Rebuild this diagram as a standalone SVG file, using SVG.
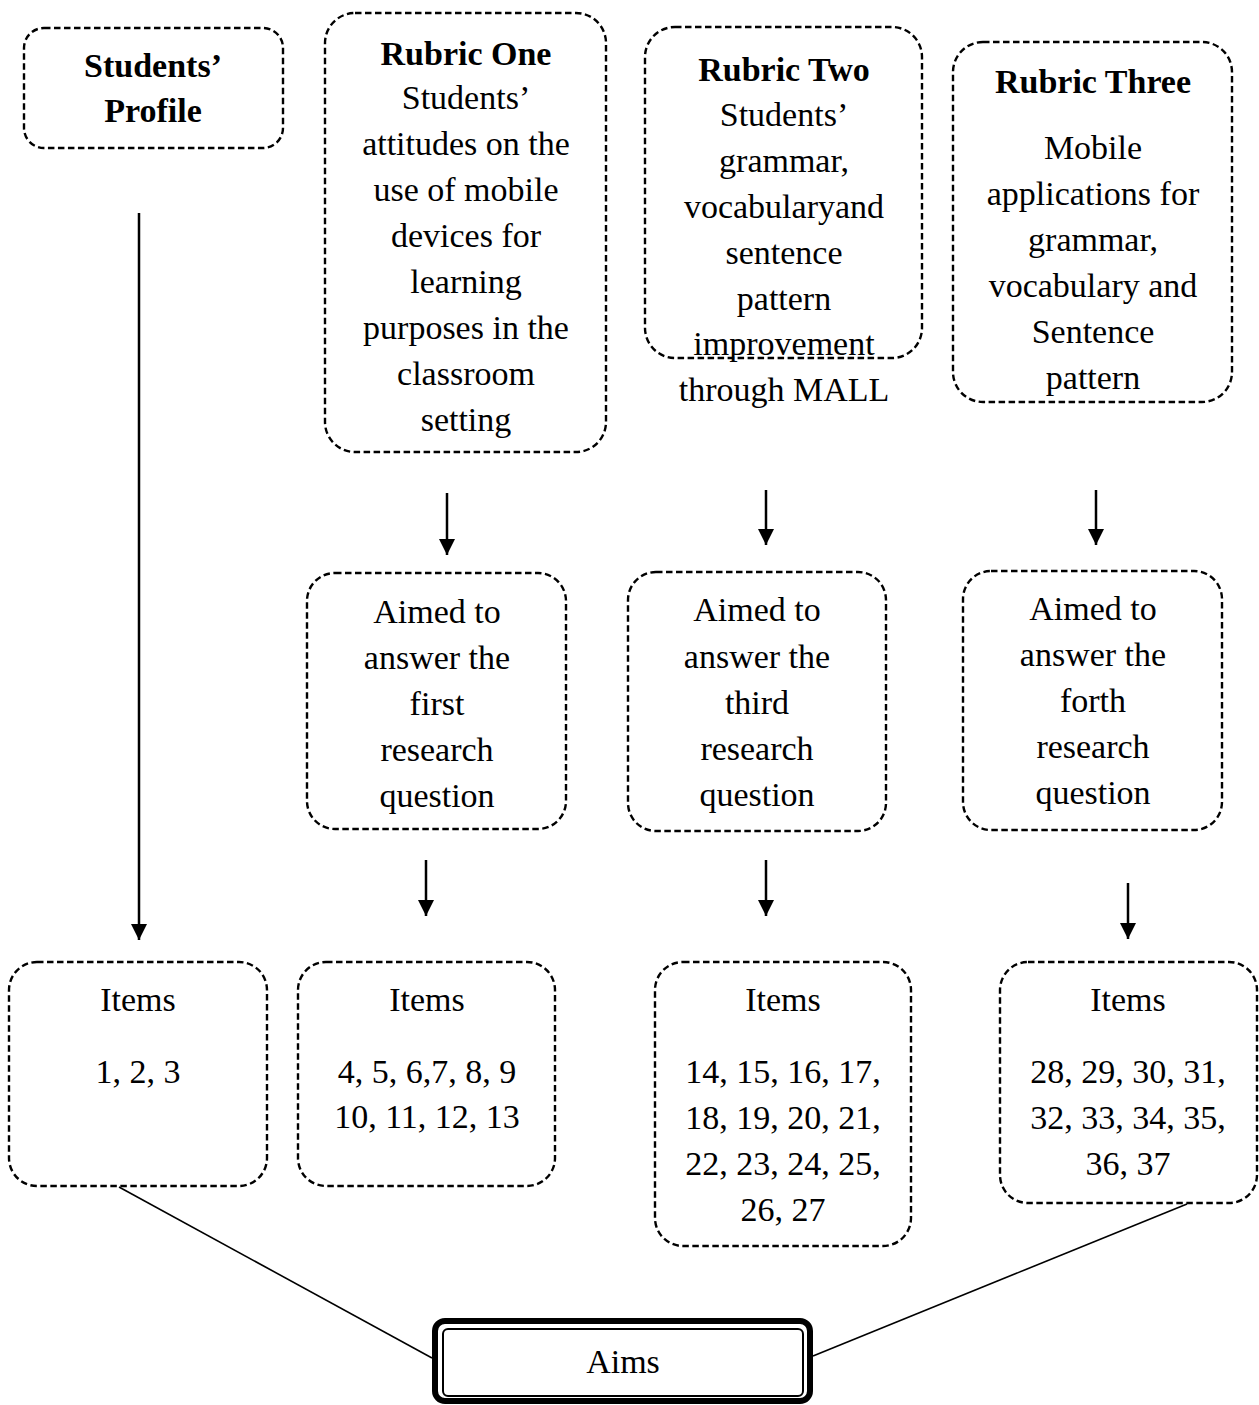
<svg xmlns="http://www.w3.org/2000/svg" width="1259" height="1405" viewBox="0 0 1259 1405">
  <style>
    .box { fill: #ffffff; stroke: #000000; stroke-width: 2.4; stroke-dasharray: 6.5 3.5; }
    .t { font-family: "Liberation Serif", "Times New Roman", serif; font-size: 34px; fill: #000000; text-anchor: middle; }
    .b { font-weight: bold; }
    .arrow { stroke: #000000; stroke-width: 2.5; fill: none; marker-end: url(#head); }
    .link { stroke: #000000; stroke-width: 1.6; fill: none; }
  </style>
  <defs>
    <marker id="head" viewBox="0 0 16 16" refX="16" refY="8" markerWidth="16" markerHeight="16" markerUnits="userSpaceOnUse" orient="auto">
      <path d="M0,0 L16,8 L0,16 z" fill="#000000"/>
    </marker>
  </defs>
  <rect width="1259" height="1405" fill="#ffffff"/>

  <!-- connectors -->
  <g id="connectors">
    <line class="arrow" x1="139" y1="213" x2="139" y2="940"/>
    <line class="arrow" x1="447" y1="493" x2="447" y2="555"/>
    <line class="arrow" x1="766" y1="490" x2="766" y2="545"/>
    <line class="arrow" x1="1096" y1="490" x2="1096" y2="545"/>
    <line class="arrow" x1="426" y1="860" x2="426" y2="916"/>
    <line class="arrow" x1="766" y1="860" x2="766" y2="916"/>
    <line class="arrow" x1="1128" y1="883" x2="1128" y2="939"/>
    <line class="link" x1="119" y1="1187" x2="432" y2="1358"/>
    <line class="link" x1="1187" y1="1204" x2="813" y2="1356"/>
  </g>

  <!-- top row -->
  <g id="students-profile">
    <rect class="box" x="24" y="28" width="259" height="120" rx="20"/>
    <text class="t b" x="153" y="77">Students’</text>
    <text class="t b" x="153" y="122">Profile</text>
  </g>

  <g id="rubric-one">
    <rect class="box" x="325" y="13" width="281" height="439" rx="30"/>
    <text class="t b" x="466" y="65">Rubric One</text>
    <text class="t" x="466" y="109">Students’</text>
    <text class="t" x="466" y="155">attitudes on the</text>
    <text class="t" x="466" y="201">use of mobile</text>
    <text class="t" x="466" y="247">devices for</text>
    <text class="t" x="466" y="293">learning</text>
    <text class="t" x="466" y="339">purposes in the</text>
    <text class="t" x="466" y="385">classroom</text>
    <text class="t" x="466" y="431">setting</text>
  </g>

  <g id="rubric-two">
    <rect class="box" x="645" y="27" width="277" height="331" rx="30"/>
    <text class="t b" x="784" y="81">Rubric Two</text>
    <text class="t" x="784" y="126">Students’</text>
    <text class="t" x="784" y="172">grammar,</text>
    <text class="t" x="784" y="218">vocabularyand</text>
    <text class="t" x="784" y="264">sentence</text>
    <text class="t" x="784" y="310">pattern</text>
    <text class="t" x="784" y="355">improvement</text>
    <text class="t" x="784" y="401">through MALL</text>
  </g>

  <g id="rubric-three">
    <rect class="box" x="953" y="42" width="279" height="360" rx="30"/>
    <text class="t b" x="1093" y="93">Rubric Three</text>
    <text class="t" x="1093" y="159">Mobile</text>
    <text class="t" x="1093" y="205">applications for</text>
    <text class="t" x="1093" y="251">grammar,</text>
    <text class="t" x="1093" y="297">vocabulary and</text>
    <text class="t" x="1093" y="343">Sentence</text>
    <text class="t" x="1093" y="389">pattern</text>
  </g>

  <!-- research question row -->
  <g id="aim-first">
    <rect class="box" x="307" y="573" width="259" height="256" rx="28"/>
    <text class="t" x="437" y="623">Aimed to</text>
    <text class="t" x="437" y="669">answer the</text>
    <text class="t" x="437" y="715">first</text>
    <text class="t" x="437" y="761">research</text>
    <text class="t" x="437" y="807">question</text>
  </g>

  <g id="aim-third">
    <rect class="box" x="628" y="572" width="258" height="259" rx="28"/>
    <text class="t" x="757" y="621">Aimed to</text>
    <text class="t" x="757" y="668">answer the</text>
    <text class="t" x="757" y="714">third</text>
    <text class="t" x="757" y="760">research</text>
    <text class="t" x="757" y="806">question</text>
  </g>

  <g id="aim-forth">
    <rect class="box" x="963" y="571" width="259" height="259" rx="28"/>
    <text class="t" x="1093" y="620">Aimed to</text>
    <text class="t" x="1093" y="666">answer the</text>
    <text class="t" x="1093" y="712">forth</text>
    <text class="t" x="1093" y="758">research</text>
    <text class="t" x="1093" y="804">question</text>
  </g>

  <!-- items row -->
  <g id="items-profile">
    <rect class="box" x="9" y="962" width="258" height="224" rx="28"/>
    <text class="t" x="138" y="1011">Items</text>
    <text class="t" x="138" y="1083">1, 2, 3</text>
  </g>

  <g id="items-one">
    <rect class="box" x="298" y="962" width="257" height="224" rx="28"/>
    <text class="t" x="427" y="1011">Items</text>
    <text class="t" x="427" y="1083">4, 5, 6,7, 8, 9</text>
    <text class="t" x="427" y="1128">10, 11, 12, 13</text>
  </g>

  <g id="items-two">
    <rect class="box" x="655" y="962" width="256" height="284" rx="28"/>
    <text class="t" x="783" y="1011">Items</text>
    <text class="t" x="783" y="1083">14, 15, 16, 17,</text>
    <text class="t" x="783" y="1129">18, 19, 20, 21,</text>
    <text class="t" x="783" y="1175">22, 23, 24, 25,</text>
    <text class="t" x="783" y="1221">26, 27</text>
  </g>

  <g id="items-three">
    <rect class="box" x="1000" y="962" width="257" height="241" rx="28"/>
    <text class="t" x="1128" y="1011">Items</text>
    <text class="t" x="1128" y="1083">28, 29, 30, 31,</text>
    <text class="t" x="1128" y="1129">32, 33, 34, 35,</text>
    <text class="t" x="1128" y="1175">36, 37</text>
  </g>

  <!-- aims -->
  <g id="aims">
    <rect x="435" y="1321" width="375" height="80" rx="10" fill="#ffffff" stroke="#000000" stroke-width="6"/>
    <rect x="443" y="1329" width="360" height="67" rx="5" fill="none" stroke="#000000" stroke-width="2"/>
    <text class="t" x="623" y="1373">Aims</text>
  </g>
</svg>
